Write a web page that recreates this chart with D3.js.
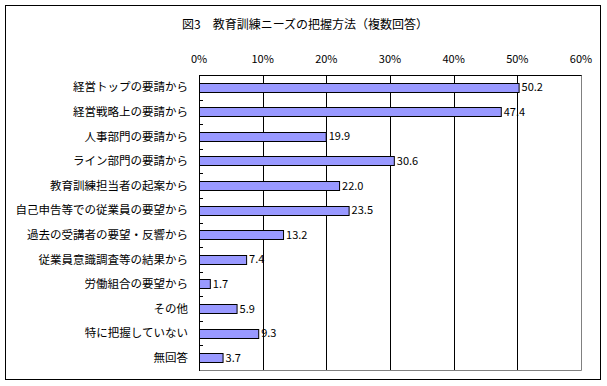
<!DOCTYPE html>
<html><head><meta charset="utf-8">
<script src="https://cdn.jsdelivr.net/npm/d3@7"></script>
<style>body{margin:0;background:#fff;}svg{display:block;font-family:"Noto Sans CJK JP","Noto Sans",sans-serif;}</style>
</head><body><svg id="c" width="607" height="386"></svg>
<script>
const categories = ["経営トップの要請から","経営戦略上の要請から","人事部門の要請から","ライン部門の要請から","教育訓練担当者の起案から","自己申告等での従業員の要望から","過去の受講者の要望・反響から","従業員意識調査等の結果から","労働組合の要望から","その他","特に把握していない","無回答"];
const values = [50.2,47.4,19.9,30.6,22.0,23.5,13.2,7.4,1.7,5.9,9.3,3.7];
const tickValues = [0,10,20,30,40,50,60];
const title = "図3　教育訓練ニーズの把握方法（複数回答）";

const svg = d3.select("#c");
const L=199,R=581,T=75,B=370;
svg.append("rect").attr("x",5.5).attr("y",5.5).attr("width",595).attr("height",374).attr("fill","none").attr("stroke","#000").attr("stroke-width",1);
svg.append("text").attr("x",305).attr("y",29).attr("text-anchor","middle").attr("font-size",12).text(title);

const x = d3.scaleLinear().domain([0,60]).range([L,R]);
const y = d3.scaleBand().domain(categories).range([T,B]).paddingInner(0.63).paddingOuter(0.315);

// plot border: right & bottom gray
svg.append("line").attr("x1",R+0.5).attr("x2",R+0.5).attr("y1",T).attr("y2",B+0.5).attr("stroke","#808080");
svg.append("line").attr("x1",L).attr("x2",R+0.5).attr("y1",B+0.5).attr("y2",B+0.5).attr("stroke","#808080");
// gridlines
svg.append("g").selectAll("line").data(tickValues.filter(v=>v>0&&v<60)).join("line")
  .attr("x1",d=>Math.round(x(d))+0.5).attr("x2",d=>Math.round(x(d))+0.5).attr("y1",T).attr("y2",B).attr("stroke","#000");
svg.append("line").attr("x1",L).attr("x2",R+0.5).attr("y1",T+0.5).attr("y2",T+0.5).attr("stroke","#000");

// top axis labels
svg.append("g").selectAll("text").data(tickValues).join("text")
  .attr("x",d=>x(d)).attr("y",63).attr("text-anchor","middle").attr("font-size",11).text(d=>d+"%");

// category axis
const step = y.step();
const bounds = d3.range(1,categories.length).map(i=>T+y.paddingOuter()*0+ (B-T)*i/categories.length);
svg.append("g").selectAll("line").data(bounds).join("line")
  .attr("x1",L).attr("x2",L+4).attr("y1",d=>Math.round(d)+0.5).attr("y2",d=>Math.round(d)+0.5).attr("stroke","#000");
svg.append("line").attr("x1",L+0.5).attr("x2",L+0.5).attr("y1",T).attr("y2",B+1).attr("stroke","#000");
svg.append("g").selectAll("text").data(categories).join("text")
  .attr("x",188).attr("y",d=>y(d)+y.bandwidth()/2).attr("dy","0.36em").attr("text-anchor","end").attr("font-size",11.5).text(d=>d);

// bars
svg.append("g").selectAll("rect").data(values).join("rect")
  .attr("x",L+0.5).attr("y",(d,i)=>Math.round(y(categories[i]))+0.5)
  .attr("width",d=>x(d)-L).attr("height",Math.round(y.bandwidth()))
  .attr("fill","#9999ff").attr("stroke","#000").attr("stroke-width",1);
svg.append("g").selectAll("text").data(values).join("text")
  .attr("x",d=>x(d)+3).attr("y",(d,i)=>y(categories[i])+y.bandwidth()/2).attr("dy","0.36em")
  .attr("font-size",11).text(d=>d.toFixed(1));
</script></body></html>
